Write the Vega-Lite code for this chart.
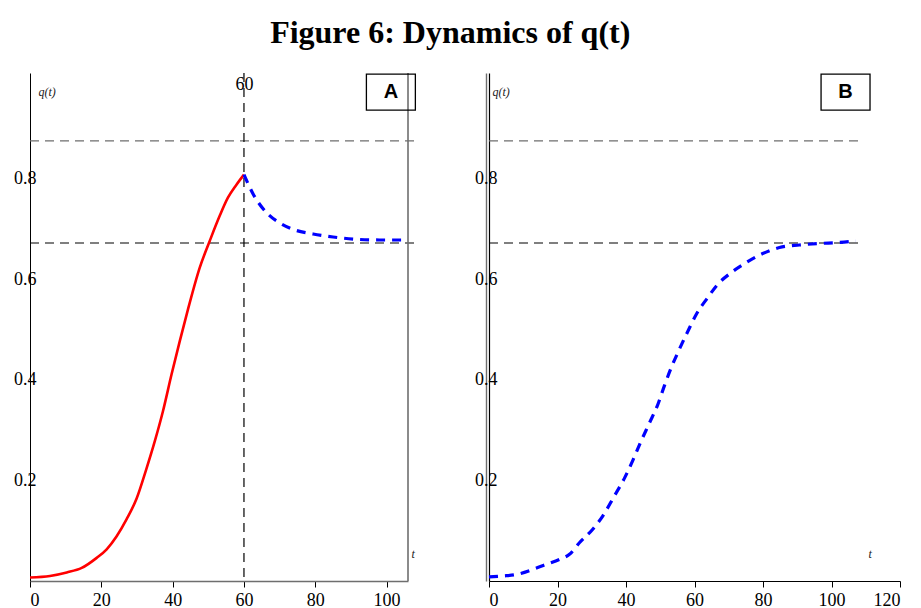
{
  "$schema": "https://vega.github.io/schema/vega-lite/v6.json",
  "background": "white",
  "padding": {"left": 0, "top": 16, "right": 5, "bottom": 0},
  "title": {
    "text": "Figure 6: Dynamics of q(t)",
    "font": "Liberation Serif",
    "fontSize": 32,
    "fontWeight": "bold",
    "color": "black",
    "anchor": "middle",
    "offset": 22
  },
  "config": {
    "view": {"stroke": null},
    "axis": {
      "grid": false,
      "labelFont": "Liberation Serif",
      "labelFontSize": 18,
      "labelColor": "black",
      "domainColor": "black",
      "tickColor": "black",
      "titleFont": "Liberation Serif",
      "titleFontStyle": "italic",
      "titleFontWeight": "normal",
      "titleFontSize": 12,
      "titleColor": "#222"
    }
  },
  "bounds": "flush",
  "spacing": 81,
  "datasets": {
    "qa": [
      {"t": 0, "q": 0.007, "seg": "rise"},
      {"t": 5.6, "q": 0.010, "seg": "rise"},
      {"t": 10.3, "q": 0.017, "seg": "rise"},
      {"t": 14.5, "q": 0.026, "seg": "rise"},
      {"t": 18.7, "q": 0.046, "seg": "rise"},
      {"t": 21.5, "q": 0.063, "seg": "rise"},
      {"t": 24.3, "q": 0.089, "seg": "rise"},
      {"t": 27.1, "q": 0.123, "seg": "rise"},
      {"t": 29.9, "q": 0.164, "seg": "rise"},
      {"t": 32.6, "q": 0.222, "seg": "rise"},
      {"t": 35.0, "q": 0.278, "seg": "rise"},
      {"t": 37.3, "q": 0.338, "seg": "rise"},
      {"t": 39.7, "q": 0.411, "seg": "rise"},
      {"t": 42.0, "q": 0.477, "seg": "rise"},
      {"t": 44.3, "q": 0.540, "seg": "rise"},
      {"t": 47.6, "q": 0.623, "seg": "rise"},
      {"t": 50.4, "q": 0.676, "seg": "rise"},
      {"t": 53.2, "q": 0.726, "seg": "rise"},
      {"t": 55.5, "q": 0.762, "seg": "rise"},
      {"t": 57.8, "q": 0.787, "seg": "rise"},
      {"t": 60.0, "q": 0.808, "seg": "rise"},
      {"t": 60.0, "q": 0.808, "seg": "fall"},
      {"t": 62.6, "q": 0.769, "seg": "fall"},
      {"t": 66.8, "q": 0.729, "seg": "fall"},
      {"t": 70.0, "q": 0.712, "seg": "fall"},
      {"t": 73.8, "q": 0.699, "seg": "fall"},
      {"t": 79.4, "q": 0.690, "seg": "fall"},
      {"t": 85.0, "q": 0.684, "seg": "fall"},
      {"t": 92.4, "q": 0.679, "seg": "fall"},
      {"t": 98.0, "q": 0.678, "seg": "fall"},
      {"t": 105.5, "q": 0.678, "seg": "fall"}
    ],
    "qb": [
      {"t": 0, "q": 0.008},
      {"t": 4.1, "q": 0.010},
      {"t": 8.0, "q": 0.013},
      {"t": 12.8, "q": 0.023},
      {"t": 16.7, "q": 0.033},
      {"t": 20.6, "q": 0.043},
      {"t": 23.5, "q": 0.053},
      {"t": 26.4, "q": 0.076},
      {"t": 30.3, "q": 0.103},
      {"t": 33.2, "q": 0.129},
      {"t": 36.6, "q": 0.169},
      {"t": 39.6, "q": 0.205},
      {"t": 42.0, "q": 0.240},
      {"t": 44.4, "q": 0.278},
      {"t": 46.9, "q": 0.315},
      {"t": 49.3, "q": 0.351},
      {"t": 51.2, "q": 0.388},
      {"t": 53.2, "q": 0.424},
      {"t": 55.6, "q": 0.461},
      {"t": 58.1, "q": 0.497},
      {"t": 60.5, "q": 0.530},
      {"t": 63.8, "q": 0.563},
      {"t": 66.8, "q": 0.590},
      {"t": 70.7, "q": 0.613},
      {"t": 75.1, "q": 0.633},
      {"t": 79.9, "q": 0.651},
      {"t": 84.8, "q": 0.663},
      {"t": 90.6, "q": 0.668},
      {"t": 96.4, "q": 0.671},
      {"t": 102.2, "q": 0.673},
      {"t": 107.1, "q": 0.676}
    ],
    "levels": [
      {"level": "upper", "q": 0.875, "from": 0, "to": 108},
      {"level": "lower", "q": 0.672, "from": 0, "to": 108}
    ],
    "shock": [{"t": 60}],
    "edgeA": [{"t": 106}],
    "tagA": [{"panel": "A", "t": 101.2, "q": 0.972}],
    "tagB": [{"panel": "B", "t": 104.1, "q": 0.972}]
  },
  "resolve": {"scale": {"x": "independent", "y": "independent"}},
  "hconcat": [
    {
      "width": 378,
      "height": 508,
      "resolve": {"axis": {"x": "independent", "y": "independent"}},
      "layer": [
        {
          "data": {"name": "levels"},
          "mark": {"type": "rule", "strokeWidth": 1.2, "strokeDash": [9, 6]},
          "encoding": {
            "y": {"field": "q", "type": "quantitative", "scale": {"domain": [0, 1.01], "nice": false}, "axis": null},
            "x": {"field": "from", "type": "quantitative", "scale": {"domain": [0, 106], "nice": false}, "axis": null},
            "x2": {"field": "to"},
            "color": {"field": "level", "type": "nominal", "scale": {"domain": ["upper", "lower"], "range": ["#6e6e6e", "#000000"]}, "legend": null}
          }
        },
        {
          "data": {"name": "shock"},
          "mark": {"type": "rule", "color": "black", "strokeWidth": 1.2, "strokeDash": [9, 6]},
          "encoding": {
            "x": {
              "field": "t", "type": "quantitative",
              "axis": {"orient": "top", "values": [60], "domain": false, "ticks": false, "labelPadding": -20, "labelDx": 7, "title": null, "maxExtent": 0, "minExtent": 0}
            }
          }
        },
        {
          "data": {"name": "edgeA"},
          "mark": {"type": "rule", "color": "#6e6e6e", "strokeWidth": 1.6},
          "encoding": {"x": {"field": "t", "type": "quantitative", "axis": null}}
        },
        {
          "data": {"name": "qa"},
          "transform": [{"filter": "datum.seg === 'rise'"}],
          "mark": {"type": "line", "color": "#ff0000", "strokeWidth": 2.6, "interpolate": "monotone"},
          "encoding": {
            "x": {
              "field": "t", "type": "quantitative",
              "axis": {"orient": "bottom", "values": [0, 20, 40, 60, 80, 100], "tickSize": 6, "labelPadding": 4, "labelDx": 5, "domainColor": "#6e6e6e", "domainWidth": 1.6, "title": "t", "titleX": 381, "titleY": -28, "titleAlign": "left", "titleBaseline": "middle"}
            },
            "y": {
              "field": "q", "type": "quantitative",
              "axis": {"orient": "left", "values": [0.2, 0.4, 0.6, 0.8], "format": ".1f", "ticks": false, "labelPadding": -6, "title": "q(t)", "titleAngle": 0, "titleX": 8, "titleY": 18, "titleAlign": "left", "titleBaseline": "middle", "maxExtent": 30, "minExtent": 30}
            }
          }
        },
        {
          "data": {"name": "qa"},
          "transform": [{"filter": "datum.seg === 'fall'"}],
          "mark": {"type": "line", "color": "#0000ff", "strokeWidth": 3.2, "strokeDash": [9, 7], "interpolate": "monotone"},
          "encoding": {
            "x": {"field": "t", "type": "quantitative", "axis": null},
            "y": {"field": "q", "type": "quantitative", "axis": null}
          }
        },
        {
          "data": {"name": "tagA"},
          "mark": {"type": "point", "shape": "M-1.36,-1L1.36,-1L1.36,1L-1.36,1Z", "size": 1296, "filled": false, "stroke": "black", "strokeWidth": 1.3, "opacity": 1},
          "encoding": {
            "x": {"field": "t", "type": "quantitative", "axis": null},
            "y": {"field": "q", "type": "quantitative", "axis": null}
          }
        },
        {
          "data": {"name": "tagA"},
          "mark": {"type": "text", "font": "Liberation Sans", "fontSize": 20, "fontWeight": "bold", "color": "black", "baseline": "middle", "align": "center"},
          "encoding": {
            "x": {"field": "t", "type": "quantitative", "axis": null},
            "y": {"field": "q", "type": "quantitative", "axis": null},
            "text": {"field": "panel"}
          }
        }
      ]
    },
    {
      "width": 411,
      "height": 508,
      "resolve": {"axis": {"x": "independent", "y": "independent"}},
      "layer": [
        {
          "data": {"name": "levels"},
          "mark": {"type": "rule", "strokeWidth": 1.2, "strokeDash": [9, 6]},
          "encoding": {
            "y": {
              "field": "q", "type": "quantitative", "scale": {"domain": [0, 1.01], "nice": false},
              "axis": {"orient": "left", "labels": false, "ticks": false, "title": null, "domainColor": "#6e6e6e", "domainWidth": 1.4, "offset": 3, "maxExtent": 0, "minExtent": 0}
            },
            "x": {"field": "from", "type": "quantitative", "scale": {"domain": [0, 120], "nice": false}, "axis": null},
            "x2": {"field": "to"},
            "color": {"field": "level", "type": "nominal", "scale": {"domain": ["upper", "lower"], "range": ["#6e6e6e", "#000000"]}, "legend": null}
          }
        },
        {
          "data": {"name": "qb"},
          "mark": {"type": "line", "color": "#0000ff", "strokeWidth": 3.2, "strokeDash": [9, 7], "interpolate": "monotone"},
          "encoding": {
            "x": {
              "field": "t", "type": "quantitative",
              "axis": {"orient": "bottom", "values": [0, 20, 40, 60, 80, 100, 120], "tickSize": 6, "labelPadding": 4, "labelDx": 4, "title": "t", "titleX": 379, "titleY": -28, "titleAlign": "left", "titleBaseline": "middle"}
            },
            "y": {
              "field": "q", "type": "quantitative",
              "axis": {"orient": "left", "values": [0.2, 0.4, 0.6, 0.8], "format": ".1f", "ticks": false, "labelPadding": -8, "domainWidth": 1.2, "title": "q(t)", "titleAngle": 0, "titleX": 3, "titleY": 18, "titleAlign": "left", "titleBaseline": "middle", "maxExtent": 30, "minExtent": 30}
            }
          }
        },
        {
          "data": {"name": "tagB"},
          "mark": {"type": "point", "shape": "M-1.36,-1L1.36,-1L1.36,1L-1.36,1Z", "size": 1296, "filled": false, "stroke": "black", "strokeWidth": 1.3, "opacity": 1},
          "encoding": {
            "x": {"field": "t", "type": "quantitative", "axis": null},
            "y": {"field": "q", "type": "quantitative", "axis": null}
          }
        },
        {
          "data": {"name": "tagB"},
          "mark": {"type": "text", "font": "Liberation Sans", "fontSize": 20, "fontWeight": "bold", "color": "black", "baseline": "middle", "align": "center"},
          "encoding": {
            "x": {"field": "t", "type": "quantitative", "axis": null},
            "y": {"field": "q", "type": "quantitative", "axis": null},
            "text": {"field": "panel"}
          }
        }
      ]
    }
  ]
}
